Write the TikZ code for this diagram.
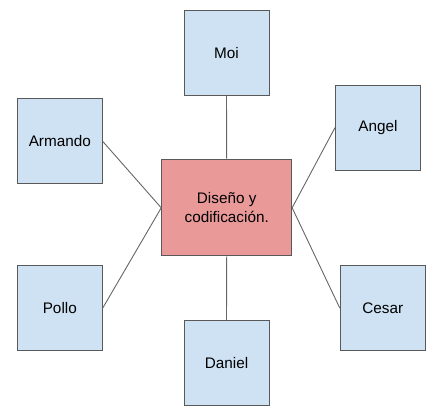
\documentclass[tikz,border=0pt]{standalone}
\usepackage{fontspec}
\setmainfont{Liberation Sans}
\definecolor{azulclaro}{HTML}{CFE2F3}
\definecolor{rojoclaro}{HTML}{EA9999}
\definecolor{borde}{HTML}{595959}
\definecolor{linea}{HTML}{666666}
\begin{document}
\begin{tikzpicture}[x=1bp,y=-1bp,
    persona/.style={draw=borde,fill=azulclaro,line width=0.9bp,minimum width=85bp,minimum height=85bp,inner sep=0pt},
    tarea/.style={draw=borde,fill=rojoclaro,line width=0.9bp,minimum width=130bp,minimum height=96bp,align=center,inner sep=0pt},
    enlace/.style={draw=linea,line width=0.9bp},
    font=\fontsize{15.3bp}{19bp}\selectfont]
                \useasboundingbox (0,0) rectangle (441,408);
                \node[tarea] (centro) at (226.7,207.8) {Diseño y\\codificación.};
                \node[persona] (moi) at (226.5,52.8) {Moi};
                \node[persona] (armando) at (59.8,141.4) {Armando};
                \node[persona] (angel) at (378,127.5) {Angel};
                \node[persona] (pollo) at (59.8,308) {Pollo};
                \node[persona] (cesar) at (382.7,308) {Cesar};
                \node[persona] (daniel) at (226.5,363.2) {Daniel};
                \draw[enlace] (moi.south) -- (centro.north);
                \draw[enlace] (daniel.north) -- (centro.south);
                \draw[enlace] (armando.east) -- (centro.west);
                \draw[enlace] (pollo.east) -- (centro.west);
                \draw[enlace] (angel.west) -- (centro.east);
                \draw[enlace] (cesar.west) -- (centro.east);
            \end{tikzpicture}
\end{document}
